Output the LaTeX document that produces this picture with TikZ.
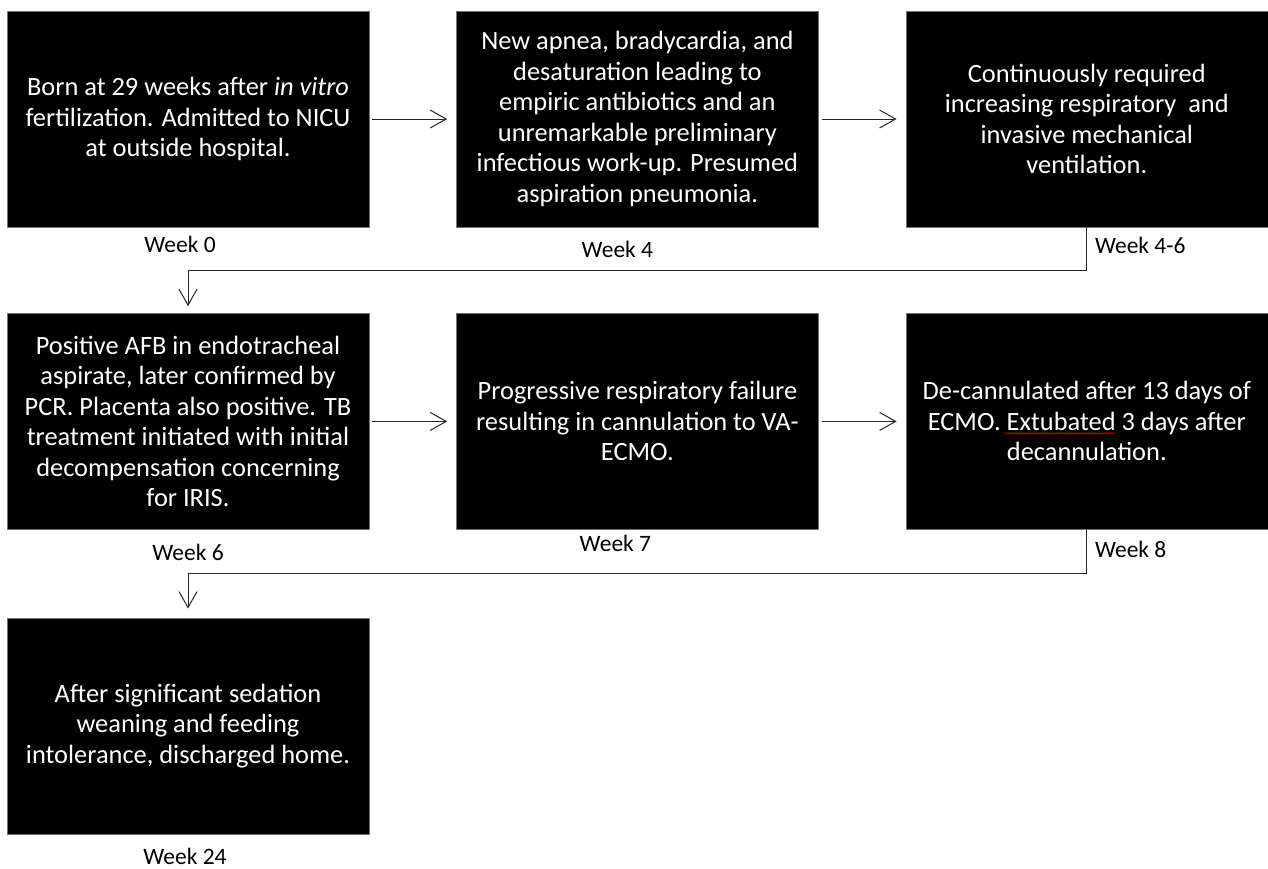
\documentclass[tikz,border=0pt]{standalone}
\usepackage{fontspec}
\setmainfont{Carlito}
\usepackage{tikz}
\usetikzlibrary{arrows.meta,positioning,calc,decorations.pathmorphing}

\begin{document}
\begin{tikzpicture}[
    x=1pt, y=-1pt,
    node distance=87pt,
    event/.style={rectangle, draw=black!55, fill=black, text=white, align=center, minimum width=362pt, minimum height=216pt, inner sep=0pt, font=\fontsize{26.4}{30.5}\selectfont},
    week/.style={inner sep=0pt, font=\fontsize{23.5}{28}\selectfont},
    arrow/.style={-{Straight Barb[length=16pt,width=18pt]}, line width=1pt, black!85}
]
\useasboundingbox (0,0) rectangle (1268,868);

% First row
\node[event] (birth) at (188,119) {Born at 29 weeks after \textit{in vitro}\\fertilization. Admitted to NICU\\at outside hospital.};
\node[event, right=of birth] (apnea) {New apnea, bradycardia, and\\desaturation leading to\\empiric antibiotics and an\\unremarkable preliminary\\infectious work-up. Presumed\\aspiration pneumonia.};
\node[event, right=of apnea] (vent) {Continuously required\\increasing respiratory~ and\\invasive mechanical\\ventilation.};

% Second row
\node[event, below=86pt of birth] (afb) {Positive AFB in endotracheal\\aspirate, later confirmed by\\PCR. Placenta also positive. TB\\treatment initiated with initial\\decompensation concerning\\for IRIS.};
\node[event, right=of afb] (ecmo) {Progressive respiratory failure\\resulting in cannulation to VA-\\ECMO.};
\node[event, right=of ecmo] (decann) {De-cannulated after 13 days of\\ECMO. Extubated 3 days after\\decannulation.};

% Third row
\node[event, below=88pt of afb] (home) {After significant sedation\\weaning and feeding\\intolerance, discharged home.};

% Week labels
\node[week, below=9pt of birth, xshift=-8pt] (w0) {Week 0};
\node[week, below=14pt of apnea, xshift=-20pt] (w4) {Week 4};
\node[week, below right=10pt and 8pt of vent.south] (w46) {Week 4-6};
\node[week, below=14pt of afb] (w6) {Week 6};
\node[week, below=5pt of ecmo, xshift=-22pt] (w7) {Week 7};
\node[week, below right=11pt and 8pt of decann.south] (w8) {Week 8};
\node[week, below=14pt of home, xshift=-3pt] (w24) {Week 24};

% Arrows
\draw[arrow, shorten <=3pt, shorten >=9pt] (birth) -- (apnea);
\draw[arrow, shorten <=3pt, shorten >=9pt] (apnea) -- (vent);
\draw[arrow, shorten <=3pt, shorten >=9pt] (afb) -- (ecmo);
\draw[arrow, shorten <=3pt, shorten >=9pt] (ecmo) -- (decann);

\draw[arrow, shorten >=7pt] (vent.south) -- ++(0,43) -| (afb.north);
\draw[arrow, shorten >=9pt] (decann.south) -- ++(0,44) -| (home.north);

% spell-check mark
\draw[red!80!black, line width=0.6pt, decorate, decoration={snake, amplitude=0.8pt, segment length=3pt}]
    ($(decann.center)+(-82,12)$) -- ($(decann.center)+(29,12)$);

\end{tikzpicture}
\end{document}
